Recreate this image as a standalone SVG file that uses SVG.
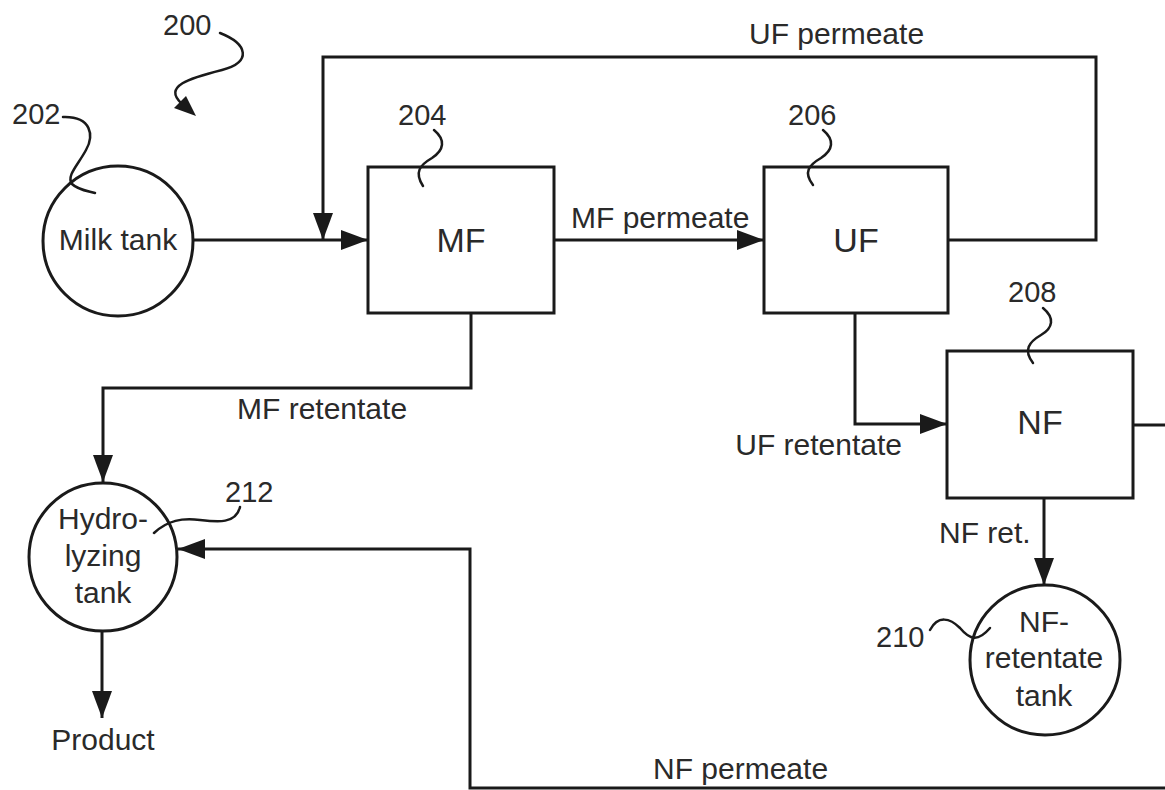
<svg xmlns="http://www.w3.org/2000/svg" width="1165" height="790" viewBox="0 0 1165 790">
<style>
.t{font-family:"Liberation Sans",Arial,sans-serif;font-size:30px;fill:#2a2a2a}
.n{font-family:"Liberation Sans",Arial,sans-serif;font-size:29px;fill:#2a2a2a}
.b{font-family:"Liberation Sans",Arial,sans-serif;font-size:34px;fill:#2a2a2a;text-anchor:middle}
.c{text-anchor:middle}
.s{fill:#fff;stroke:#1a1a1a;stroke-width:3}
.l{fill:none;stroke:#1a1a1a;stroke-width:3}
.q{fill:none;stroke:#1a1a1a;stroke-width:2.5;stroke-linecap:round}
.w{fill:none;stroke:#1a1a1a;stroke-width:3;marker-end:url(#ah)}
</style>
<defs>
<marker id="ah" viewBox="0 0 27 20" refX="27" refY="10" markerWidth="27" markerHeight="20" markerUnits="userSpaceOnUse" orient="auto">
<path d="M0,0 L27,10 L0,20 z" fill="#1a1a1a"/>
</marker>
</defs>
<rect width="1165" height="790" fill="#fff"/>
<g id="connectors">
<path class="w" d="M193,240 H368"/>
<path class="w" d="M554,240 H764"/>
<path class="w" d="M948,240 H1096 V57 H323 V240"/>
<path class="w" d="M471,313 V388 H103 V482"/>
<path class="w" d="M855,313 V424 H947"/>
<path class="w" d="M1044,498 V585"/>
<path class="w" d="M1133,425 H1170 V788 H470 V549 H178"/>
<path class="w" d="M102,632 V718"/>
<text class="t" x="749" y="44">UF permeate</text>
<text class="t" x="571" y="228">MF permeate</text>
<text class="t" x="237" y="419">MF retentate</text>
<text class="t" x="902" y="455" text-anchor="end">UF retentate</text>
<text class="t" x="939" y="543">NF ret.</text>
<text class="t" x="653" y="779">NF permeate</text>
<text class="t" x="103" y="750" text-anchor="middle">Product</text>
</g>
<g id="ref200">
<text class="n" x="163" y="35">200</text>
<path class="q" d="M220,33 C248,44 252,62 222,70 C190,78 162,86 182,104"/>
<path d="M196,116 L174,108 L186,96 z" fill="#1a1a1a"/>
</g>
<g id="milk-tank">
<circle class="s" cx="118" cy="241" r="75"/>
<text class="t c" x="118" y="250">Milk tank</text>
<text class="n" x="12" y="124">202</text>
<path class="q" d="M63,117 C92,116 94,136 86,150 C78,165 66,176 72,184 C78,190 88,191 95,193"/>
</g>
<g id="mf">
<rect class="s" x="368" y="167" width="186" height="146"/>
<text class="b" x="461" y="252">MF</text>
<text class="n" x="398" y="125">204</text>
<path class="q" d="M434,130 C446,140 444,150 432,158 C420,165 414,172 423,186"/>
</g>
<g id="uf">
<rect class="s" x="764" y="167" width="184" height="146"/>
<text class="b" x="856" y="252">UF</text>
<text class="n" x="788" y="125">206</text>
<path class="q" d="M823,130 C835,140 833,150 821,158 C809,165 803,172 813,185"/>
</g>
<g id="nf">
<rect class="s" x="947" y="351" width="186" height="147"/>
<text class="b" x="1040" y="434">NF</text>
<text class="n" x="1008" y="302">208</text>
<path class="q" d="M1043,308 C1055,318 1053,328 1041,335 C1029,342 1023,350 1033,363"/>
</g>
<g id="nf-retentate-tank">
<circle class="s" cx="1045" cy="660" r="75"/>
<text class="t c" x="1044" y="632">NF-</text>
<text class="t c" x="1044" y="668">retentate</text>
<text class="t c" x="1044" y="706">tank</text>
<text class="n" x="876" y="647">210</text>
<path class="q" d="M930,630 C938,615 950,618 960,628 C970,640 978,642 990,628"/>
</g>
<g id="hydrolyzing-tank">
<circle class="s" cx="103" cy="557" r="74"/>
<text class="t c" x="103" y="529">Hydro-</text>
<text class="t c" x="103" y="566">lyzing</text>
<text class="t c" x="103" y="603">tank</text>
<text class="n" x="225" y="502">212</text>
<path class="q" d="M240,507 C236,524 218,522 200,520 C182,518 168,520 154,533"/>
</g>
</svg>
